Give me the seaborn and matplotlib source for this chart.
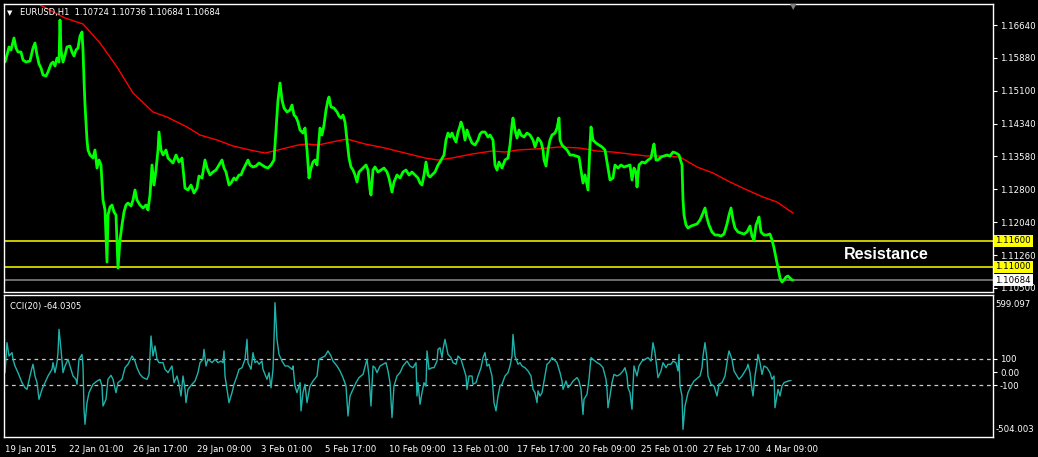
import numpy as np
import pandas as pd
import seaborn as sns
import matplotlib.pyplot as plt
import matplotlib.transforms as mtransforms

# hourly bar position and close price
price_bar = [5, 7, 9, 11, 14, 16, 18, 21, 23, 26, 30, 33, 35, 37, 39, 41, 43, 46, 48, 51,
             53, 55, 57, 59, 60, 61, 63, 65, 67, 70, 72, 74, 76, 78, 80, 82, 83, 84, 85, 86,
             87, 88, 90, 93, 95, 97, 99, 101, 103, 105, 107, 108, 110, 112, 114, 116, 118, 120, 122, 124,
             126, 128, 131, 133, 135, 137, 140, 143, 146, 148, 150, 152, 154, 156, 158, 159, 161, 163, 166, 168,
             170, 173, 176, 179, 182, 185, 188, 191, 194, 197, 199, 202, 205, 207, 210, 213, 216, 219, 222, 224,
             226, 229, 231, 234, 236, 239, 241, 243, 248, 250, 253, 256, 259, 262, 265, 268, 271, 274, 276, 278,
             280, 282, 284, 287, 290, 292, 294, 296, 298, 300, 303, 305, 307, 309, 311, 313, 315, 317, 318, 320,
             322, 324, 326, 328, 329, 331, 334, 337, 339, 341, 343, 345, 347, 349, 351, 353, 355, 357, 359, 361,
             363, 366, 368, 370, 371, 373, 375, 378, 381, 384, 387, 389, 392, 394, 397, 400, 403, 406, 409, 412,
             415, 418, 420, 422, 424, 426, 428, 430, 432, 435, 438, 440, 444, 446, 448, 450, 452, 454, 456, 458,
             460, 461, 463, 465, 467, 469, 472, 475, 478, 480, 482, 485, 488, 490, 493, 495, 497, 499, 502, 505,
             508, 510, 512, 513, 515, 517, 519, 521, 524, 527, 530, 533, 535, 538, 541, 543, 544, 546, 548, 550,
             552, 555, 557, 559, 560, 562, 565, 567, 570, 573, 576, 579, 581, 583, 585, 588, 590, 591, 593, 596,
             599, 602, 605, 607, 610, 613, 615, 618, 621, 624, 627, 630, 632, 634, 636, 637, 639, 642, 645, 648,
             651, 653, 654, 656, 658, 661, 664, 667, 670, 673, 676, 679, 682, 683, 684, 686, 688, 691, 694, 697,
             700, 703, 705, 707, 709, 712, 715, 718, 721, 724, 727, 729, 731, 733, 735, 738, 741, 744, 747, 750,
             752, 754, 756, 758, 759, 761, 764, 767, 770, 772, 774, 776, 778, 780, 782, 784, 786, 788, 790, 792,
             793]
price_close = [1.15776, 1.15940, 1.16127, 1.16057, 1.16337, 1.16103, 1.16010, 1.16010, 1.15823, 1.15776,
               1.15800, 1.16103, 1.16220, 1.15940, 1.15730, 1.15636, 1.15473, 1.15449, 1.15543, 1.15730,
               1.15776, 1.15683, 1.15870, 1.15776, 1.16757, 1.16057, 1.15776, 1.15940, 1.16127, 1.16150,
               1.16010, 1.15916, 1.16057, 1.16103, 1.16383, 1.16477, 1.16057, 1.15356, 1.14772, 1.14352,
               1.13955, 1.13722, 1.13605, 1.13535, 1.13722, 1.13301, 1.13488, 1.13371, 1.12554, 1.12321,
               1.11106, 1.12204, 1.12391, 1.12437, 1.12274, 1.12204, 1.10966, 1.11620, 1.11970, 1.12274,
               1.12437, 1.12484, 1.12414, 1.12554, 1.12788, 1.12554, 1.12437, 1.12367, 1.12437, 1.12321,
               1.12671, 1.13371, 1.12904, 1.13255, 1.13722, 1.14142, 1.13722, 1.13605, 1.13722, 1.13535,
               1.13488, 1.13418, 1.13605, 1.13441, 1.13535, 1.12834, 1.12788, 1.12904, 1.12717, 1.12834,
               1.13114, 1.13068, 1.13488, 1.13301, 1.13138, 1.13208, 1.13255, 1.13371, 1.13488, 1.13301,
               1.13208, 1.12904, 1.12951, 1.13068, 1.13021, 1.13138, 1.13138, 1.13255, 1.13488, 1.13371,
               1.13325, 1.13348, 1.13418, 1.13371, 1.13325, 1.13301, 1.13371, 1.13488, 1.14189, 1.14889,
               1.15286, 1.14889, 1.14702, 1.14609, 1.14656, 1.14772, 1.14539, 1.14492, 1.14375, 1.14189,
               1.14118, 1.14235, 1.13722, 1.13068, 1.13301, 1.13441, 1.13488, 1.13371, 1.13675, 1.14235,
               1.14072, 1.14305, 1.14656, 1.14889, 1.14959, 1.14726, 1.14702, 1.14609, 1.14515, 1.14469,
               1.14539, 1.14375, 1.13955, 1.13535, 1.13325, 1.13255, 1.13138, 1.12974, 1.13208, 1.13255,
               1.13301, 1.13371, 1.13255, 1.12788, 1.12671, 1.13255, 1.13325, 1.13208, 1.13255, 1.13301,
               1.13208, 1.13068, 1.12741, 1.12974, 1.13138, 1.13068, 1.13208, 1.13255, 1.13138, 1.13208,
               1.13138, 1.13068, 1.12951, 1.12904, 1.13138, 1.13441, 1.13138, 1.13091, 1.13138, 1.13208,
               1.13371, 1.13441, 1.13605, 1.13955, 1.14118, 1.14025, 1.14118, 1.14002, 1.13908, 1.14142,
               1.14282, 1.14375, 1.14235, 1.13955, 1.14189, 1.14048, 1.13885, 1.13838, 1.13955, 1.14095,
               1.14142, 1.14142, 1.14025, 1.14072, 1.13955, 1.13371, 1.13255, 1.13441, 1.13301, 1.13488,
               1.13535, 1.13838, 1.14305, 1.14469, 1.14189, 1.14002, 1.14189, 1.14072, 1.14025, 1.14118,
               1.14072, 1.13955, 1.13792, 1.14002, 1.13908, 1.13722, 1.13488, 1.13348, 1.13722, 1.13955,
               1.14072, 1.14118, 1.14235, 1.14469, 1.13955, 1.13838, 1.13768, 1.13722, 1.13605, 1.13605,
               1.13581, 1.13558, 1.13255, 1.12951, 1.13138, 1.12788, 1.13838, 1.14259, 1.13955, 1.13885,
               1.13838, 1.13792, 1.13722, 1.13441, 1.13021, 1.13068, 1.13371, 1.13301, 1.13371, 1.13325,
               1.13348, 1.13371, 1.13021, 1.13301, 1.13208, 1.12858, 1.13371, 1.13441, 1.13418, 1.13488,
               1.13535, 1.13768, 1.13862, 1.13488, 1.13488, 1.13558, 1.13581, 1.13605, 1.13581, 1.13675,
               1.13651, 1.13605, 1.13371, 1.12554, 1.12204, 1.11970, 1.11900, 1.11947, 1.11970, 1.11994,
               1.12087, 1.12250, 1.12367, 1.12134, 1.11970, 1.11807, 1.11737, 1.11737, 1.11713, 1.11760,
               1.11994, 1.12204, 1.12367, 1.12087, 1.11900, 1.11807, 1.11783, 1.11760, 1.11807, 1.11947,
               1.11713, 1.11620, 1.11970, 1.12087, 1.12157, 1.11807, 1.11737, 1.11737, 1.11760, 1.11620,
               1.11433, 1.11200, 1.10966, 1.10733, 1.10639, 1.10686, 1.10756, 1.10779, 1.10733, 1.10686,
               1.10684]

# moving average (red line)
ma_bar = [40, 65, 83, 100, 117, 133, 153, 167, 187, 200, 217, 233, 250, 265, 278, 298, 307, 318,
          332, 347, 365, 385, 405, 425, 438, 452, 472, 492, 505, 518, 535, 560, 580, 597, 613, 630,
          647, 663, 680, 697, 713, 730, 747, 763, 777, 793]
ma_value = [1.17107, 1.16804, 1.16664, 1.16220, 1.15660, 1.15052, 1.14609, 1.14492, 1.14259, 1.14072,
            1.13955, 1.13815, 1.13722, 1.13651, 1.13722, 1.13838, 1.13862, 1.13838, 1.13908, 1.13978,
            1.13862, 1.13768, 1.13651, 1.13535, 1.13488, 1.13535, 1.13628, 1.13698, 1.13675, 1.13722,
            1.13745, 1.13792, 1.13768, 1.13698, 1.13675, 1.13628, 1.13581, 1.13581, 1.13558, 1.13325,
            1.13184, 1.12974, 1.12788, 1.12624, 1.12507, 1.12250]

# CCI(20)
cci_bar = [5, 7, 9, 12, 13, 15, 18, 22, 25, 27, 30, 32, 33, 35, 37, 39, 42, 45, 48, 52,
           53, 55, 57, 58, 59, 61, 63, 65, 68, 71, 73, 76, 77, 79, 82, 83, 84, 85, 87, 89,
           93, 97, 100, 102, 103, 106, 108, 111, 113, 116, 118, 122, 125, 128, 132, 135, 137, 140, 143, 147,
           149, 151, 153, 155, 157, 159, 163, 165, 168, 172, 174, 177, 179, 181, 183, 185, 186, 188, 192, 195,
           198, 200, 203, 204, 206, 208, 212, 215, 218, 221, 223, 224, 225, 227, 229, 232, 234, 237, 239, 242,
           245, 247, 248, 251, 253, 255, 257, 259, 262, 263, 265, 267, 269, 271, 273, 274, 275, 277, 279, 282,
           285, 288, 292, 293, 295, 297, 300, 301, 303, 305, 307, 310, 313, 317, 319, 322, 325, 328, 331, 333,
           337, 340, 343, 346, 348, 350, 353, 356, 359, 363, 367, 369, 371, 373, 375, 377, 380, 383, 386, 388,
           390, 392, 394, 397, 400, 403, 407, 410, 413, 416, 417, 418, 420, 422, 424, 426, 427, 429, 432, 434,
           437, 438, 440, 442, 443, 445, 447, 448, 451, 453, 456, 458, 461, 463, 466, 467, 469, 472, 473, 476,
           478, 481, 483, 485, 487, 489, 492, 494, 496, 498, 500, 502, 505, 508, 510, 512, 513, 515, 518, 520,
           522, 525, 528, 531, 533, 535, 537, 538, 540, 542, 545, 547, 549, 552, 554, 557, 558, 560, 562, 563,
           566, 568, 571, 573, 577, 579, 581, 583, 584, 587, 589, 591, 593, 597, 600, 603, 606, 607, 608, 610,
           612, 614, 617, 620, 623, 625, 627, 628, 630, 632, 633, 634, 637, 639, 642, 645, 648, 651, 653, 655,
           657, 658, 661, 663, 666, 668, 671, 673, 676, 678, 679, 680, 682, 683, 685, 688, 691, 694, 698, 700,
           702, 703, 705, 707, 708, 711, 714, 717, 719, 722, 725, 728, 729, 732, 734, 737, 739, 742, 744, 747,
           748, 750, 752, 753, 755, 757, 758, 760, 762, 764, 767, 770, 772, 774, 775, 778, 780, 782, 784, 788,
           791]
cci_value = [-5, 220, 120, 145, 95, 45, -5, -80, -118, -130, -30, 32, 58, -30, -80, -205, -130, -80, -30, 20,
             70, -5, 70, 145, 320, 170, -5, 45, 95, 20, -30, -55, -92, 95, 132, 45, -280, -392, -230, -155,
             -92, -68, -55, -105, -255, -205, -55, -25, -55, -155, -80, -55, 32, 58, 120, 82, 32, -18, -42, -55,
             -18, 270, 120, 195, 95, 70, 70, 20, -5, 45, -80, -30, -92, -180, -30, -130, -230, -130, -92, -68,
             -5, 70, 95, 170, 45, 95, 70, 95, 70, 82, 70, 158, -30, -130, -230, -155, -92, -30, 20, 32,
             95, 245, 70, 20, 145, 70, 82, 58, 82, 20, -18, -55, -5, -118, 20, 245, 520, 245, 132, 82,
             45, 45, 20, 45, -105, -155, -80, -292, -155, -92, -230, -105, -68, -30, 95, 108, 120, 158, 120, 82,
             45, 8, -42, -105, -330, -180, -130, -80, -42, -18, 95, -30, -255, 45, 32, -5, 45, 58, 70, 8,
             -80, -342, -105, -30, -5, 45, 82, 45, 32, 70, -180, -80, -242, -155, -80, -105, 158, 20, 32, 32,
             82, 170, 182, 108, 170, 245, 170, 132, 108, 70, 58, 120, 95, 45, -30, -130, -30, -30, -92, -80,
             -30, 32, 108, 145, 45, 58, -30, -230, -292, -180, -105, -92, -30, -5, 45, 120, 282, 120, 58, 70,
             45, 32, 8, -30, -130, -155, -230, -142, -180, -155, -30, 58, 70, 108, 95, 70, 45, -5, -68, -130,
             -68, -118, -92, -68, -42, -68, -130, -318, -205, -168, -55, 108, 95, 70, 58, 32, -55, -130, -268, -180,
             -80, -18, -30, -18, 8, 32, -30, -118, -155, -280, -105, 45, -30, 45, 82, 95, 108, 82, 220, 145,
             20, -42, 8, 70, 32, 58, 58, 82, 70, 8, 132, -105, -180, -430, -255, -155, -105, -68, -42, -30,
             32, 120, 220, 95, -30, -92, -105, -180, -92, -80, -30, 120, 158, 95, 8, -30, -55, -30, -5, 32,
             58, -5, -130, -180, -30, 70, 132, 70, -18, 45, 32, -5, -55, -30, -268, -130, -180, -105, -80, -68,
             -64]

tick_bar = [5, 69, 133, 197, 261, 325, 389, 452, 517, 579, 641, 703, 766]
tick_text = ['19 Jan 2015', '22 Jan 01:00', '26 Jan 17:00', '29 Jan 09:00', '3 Feb 01:00',
             '5 Feb 17:00', '10 Feb 09:00', '13 Feb 01:00', '17 Feb 17:00', '20 Feb 09:00',
             '25 Feb 01:00', '27 Feb 17:00', '4 Mar 09:00']
price_ticks = [1.16640, 1.15880, 1.15100, 1.14340, 1.13580, 1.12800, 1.12040, 1.11260, 1.10500]
level_lines = [1.11600, 1.11000]
last_close = 1.10684
cci_ticks = [100, 0, -100]
cci_tick_text = ['100', '0.00', '-100']
cci_max, cci_min = 599.097, -504.003

sns.set_style('dark')
plt.rcParams['font.family'] = ['DejaVu Sans']
plt.rcParams['axes.facecolor'] = 'black'
plt.rcParams['figure.facecolor'] = 'black'

W, H = 1038, 457
fig = plt.figure(figsize=(W / 100, H / 100), dpi=100)
ax = fig.add_axes([4 / W, 1 - 292 / H, 989 / W, 288 / H])
ax2 = fig.add_axes([4 / W, 1 - 437 / H, 989 / W, 142 / H])

price_df = pd.DataFrame({'bar': price_bar, 'close': price_close})
ma_df = pd.DataFrame({'bar': ma_bar, 'ma': ma_value})
cci_df = pd.DataFrame({'bar': cci_bar, 'cci': cci_value})

for lv in level_lines:
    ax.axhline(lv, color='#ffff00', lw=1.1, zorder=1)
ax.axhline(last_close, color='#8a8a8a', lw=1.1, zorder=1)

sns.lineplot(data=ma_df, x='bar', y='ma', ax=ax, color='#ff0000', lw=1.0,
             estimator=None, sort=False)
sns.lineplot(data=price_df, x='bar', y='close', ax=ax, color='#00ff00', lw=2.0,
             estimator=None, sort=False)

ax.set_xlim(4, 993)
ax.set_ylim(1.10406, 1.17131)
ax.set_xticks([])
ax.set_xlabel('')
ax.set_ylabel('')
ax.yaxis.tick_right()
ax.set_yticks(price_ticks)
ax.set_yticklabels(['%.5f' % t for t in price_ticks])
ax.tick_params(axis='y', colors='white', labelsize=6.2, length=3, width=0.8, pad=2)
for s in ax.spines.values():
    s.set_color('white')
    s.set_linewidth(1)

trans = mtransforms.blended_transform_factory(ax.transAxes, ax.transData)
for lv in level_lines:
    ax.text(1.0025, lv, '%.5f' % lv, transform=trans, fontsize=6.2, color='black',
            va='center', ha='left',
            bbox=dict(boxstyle='square,pad=0.18', fc='#ffff00', ec='none'))
ax.text(1.0025, last_close, '%.5f' % last_close, transform=trans, fontsize=6.2, color='black',
        va='center', ha='left',
        bbox=dict(boxstyle='square,pad=0.18', fc='white', ec='none'))

ax.text(886, 1.1127, 'Resistance', color='white', fontsize=11.5, fontweight='bold',
        ha='center', va='center', family=['Liberation Sans', 'DejaVu Sans'])

fig.text(10 / W, 1 - 13 / H, '\u25bc', color='white', fontsize=5, va='center', ha='center')
fig.text(20 / W, 1 - 13 / H, 'EURUSD,H1  1.10724 1.10736 1.10684 1.10684', color='white',
         fontsize=6, va='center', ha='left')
fig.text(793 / W, 1 - 7 / H, '\u25bc', color='#808080', fontsize=6, va='center', ha='center')

# CCI panel
for lv in [100, -100]:
    ax2.axhline(lv, color='#c8c8c8', lw=0.9, dashes=(3, 3), zorder=1)
sns.lineplot(data=cci_df, x='bar', y='cci', ax=ax2, color='#20b2aa', lw=1.0,
             estimator=None, sort=False)
ax2.set_xlim(4, 993)
ax2.set_ylim(-487.5, 577.5)
ax2.set_xlabel('')
ax2.set_ylabel('')
ax2.yaxis.tick_right()
ax2.set_yticks(cci_ticks)
ax2.set_yticklabels(cci_tick_text)
ax2.tick_params(axis='y', colors='white', labelsize=6.2, length=3, width=0.8, pad=2)
ax2.set_xticks(tick_bar)
ax2.set_xticklabels(tick_text, ha='left')
ax2.tick_params(axis='x', colors='white', labelsize=6.2, length=3, width=0.8, pad=3)
for s in ax2.spines.values():
    s.set_color('white')
    s.set_linewidth(1)
ax2.text(1.0025, 0.93, '%.3f' % cci_max, transform=ax2.transAxes, color='white',
         fontsize=6.2, va='center', ha='left')
ax2.text(1.0025, 0.05, '%.3f' % cci_min, transform=ax2.transAxes, color='white',
         fontsize=6.2, va='center', ha='left')
ax2.text(0.006, 0.95, 'CCI(20) -64.0305', transform=ax2.transAxes, color='white',
         fontsize=6, va='top', ha='left')

fig.savefig('out.png', dpi=100, facecolor='black')
